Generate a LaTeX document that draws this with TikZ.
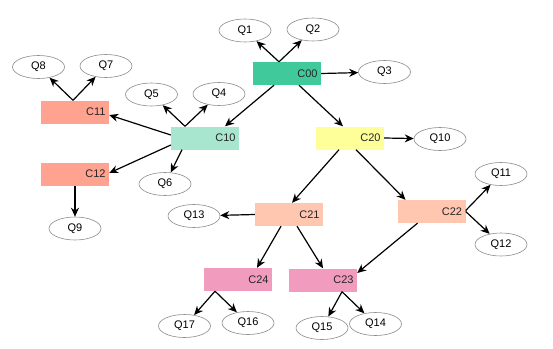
\documentclass[tikz,border=0pt]{standalone}
\usepackage{fontspec}
\setmainfont{Liberation Sans}
\usepackage{tikz}
\usetikzlibrary{shapes.geometric,arrows.meta}
\definecolor{RootGreen}{HTML}{40CA9C}
\definecolor{MintBox}{HTML}{A8E6CF}
\definecolor{SalmonBox}{HTML}{FFA28F}
\definecolor{PaleYellow}{HTML}{FFFF99}
\definecolor{PeachBox}{HTML}{FFC7B0}
\definecolor{PinkBox}{HTML}{F19BBE}

\begin{document}
\begin{tikzpicture}[
      x=1pt, y=-1pt,
      font=\fontsize{11}{12}\selectfont,
      cbox/.style={rectangle, draw=none, text width=61pt, align=right,
                   inner xsep=3.5pt, inner ysep=0pt, minimum height=23pt,
                   text=black!85},
      qell/.style={ellipse, draw=black!45, line width=0.6pt, fill=white,
                   inner sep=0pt, minimum width=52pt, minimum height=23pt},
      a/.style={-{Stealth[length=9pt,width=8pt]}, line width=1.2pt},
    ]
      \useasboundingbox (0,0) rectangle (553,348);

      % clusters
      \node[cbox, fill=RootGreen]  (c00) at (287,  73.5) {C00};
      \node[cbox, fill=MintBox]    (c10) at (205, 138)   {C10};
      \node[cbox, fill=SalmonBox]  (c11) at ( 75, 112)   {C11};
      \node[cbox, fill=SalmonBox]  (c12) at ( 75, 174)   {C12};
      \node[cbox, fill=PaleYellow] (c20) at (350, 138)   {C20};
      \node[cbox, fill=PeachBox]   (c21) at (289, 214.5) {C21};
      \node[cbox, fill=PeachBox]   (c22) at (431.5, 211.5) {C22};
      \node[cbox, fill=PinkBox]    (c24) at (238, 279.5) {C24};
      \node[cbox, fill=PinkBox]    (c23) at (323, 280)   {C23};

      % queries
      \node[qell] (q1)  at (245,  30.5) {Q1};
      \node[qell] (q2)  at (313,  29.5) {Q2};
      \node[qell] (q3)  at (384.5, 72)  {Q3};
      \node[qell] (q5)  at (151.5, 94.5) {Q5};
      \node[qell] (q4)  at (219,  94)   {Q4};
      \node[qell] (q6)  at (165, 184)   {Q6};
      \node[qell] (q8)  at ( 38.5, 67)  {Q8};
      \node[qell] (q7)  at (106,  66)   {Q7};
      \node[qell] (q9)  at ( 75, 228.5) {Q9};
      \node[qell] (q10) at (440, 139)   {Q10};
      \node[qell] (q13) at (194, 216)   {Q13};
      \node[qell] (q11) at (501, 174)   {Q11};
      \node[qell] (q12) at (501, 244.5) {Q12};
      \node[qell] (q17) at (184.5, 326) {Q17};
      \node[qell] (q16) at (248, 323)   {Q16};
      \node[qell] (q15) at (322, 328)   {Q15};
      \node[qell] (q14) at (375.5, 324) {Q14};

      % fan-out points
      \coordinate (f00) at ([xshift=-8]c00.north);
      \coordinate (f10) at ([xshift=-20]c10.north);
      \coordinate (f11) at ([xshift=-2]c11.north);
      \coordinate (f24) at ([xshift=-23]c24.south);
      \coordinate (f23) at ([xshift=19]c23.south);

      \draw[a] (f00) -- (q1);
      \draw[a] (f00) -- (q2);
      \draw[a] (c00.east) -- (q3);
      \draw[a] ([xshift=-13]c00.south) -- ([xshift=20]c10.north);
      \draw[a] ([xshift=12]c00.south)  -- ([xshift=-7]c20.north);

      \draw[a] (f10) -- (q5);
      \draw[a] (f10) -- (q4);
      \draw[a] ([yshift=3]c10.west)  -- ([yshift=-3]c11.east);
      \draw[a] ([yshift=-7]c10.west) -- ([yshift=1]c12.east);
      \draw[a] ([xshift=-23]c10.south) -- (q6);

      \draw[a] (f11) -- (q8);
      \draw[a] (f11) -- (q7);
      \draw[a] (c12.south) -- (q9);

      \draw[a] (c20.east) -- (q10);
      \draw[a] ([xshift=-11]c20.south) -- ([xshift=3]c21.north);
      \draw[a] ([xshift=6]c20.south)   -- ([xshift=-26]c22.north);

      \draw[a] (c21.west) -- (q13);
      \draw[a] ([xshift=-8]c21.south) -- ([xshift=19]c24.north);
      \draw[a] ([xshift=8]c21.south)  -- (c23.north);

      \draw[a] ([yshift=1]c22.east) -- (q11);
      \draw[a] (c22.east) -- (q12);
      \draw[a] ([xshift=-14]c22.south) -- ([yshift=7]c23.east);

      \draw[a] (f24) -- (q17);
      \draw[a] (f24) -- (q16);
      \draw[a] (f23) -- (q15);
      \draw[a] (f23) -- (q14);
    \end{tikzpicture}
\end{document}
